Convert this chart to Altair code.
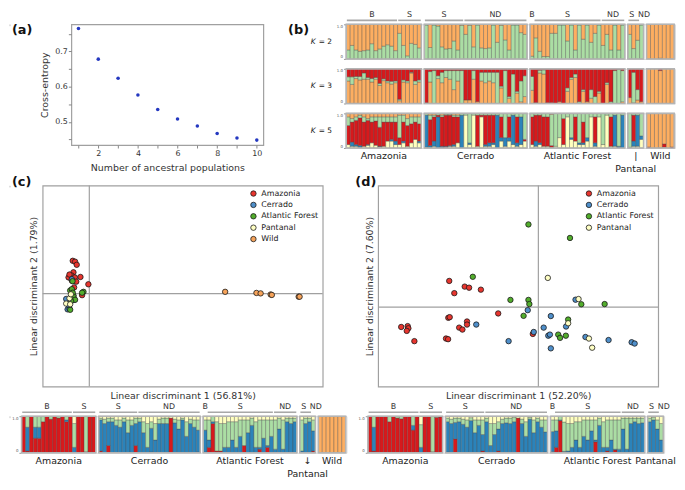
import altair as alt
import pandas as pd

FONT = "DejaVu Sans"
GAP = 0.75
TXT = "#333333"

# ---------------- (a) cross-entropy ----------------
n_pops = [1, 2, 3, 4, 5, 6, 7, 8, 9, 10]
cross_entropy = [0.765, 0.678, 0.624, 0.576, 0.535, 0.508, 0.488, 0.467, 0.454, 0.448]

# ---------------- groups ----------------
groups_all = ["Amazonia", "Cerrado", "Atlantic Forest", "Pantanal", "Wild"]
groups_d = ["Amazonia", "Cerrado", "Atlantic Forest", "Pantanal"]
# (group, label, first bar, last bar, label nudge in bars)
subgroups = [("Amazonia", "B", 1, 13, 0), ("Amazonia", "S", 14, 19, 0),
             ("Cerrado", "S", 1, 10, 0), ("Cerrado", "ND", 11, 26, 0),
             ("Atlantic Forest", "B", 1, 1, 0), ("Atlantic Forest", "S", 2, 18, 0),
             ("Atlantic Forest", "ND", 19, 24, 0),
             ("Pantanal", "S", 1, 3, -0.5), ("Pantanal", "ND", 4, 4, 0.6)]

# Spectral palette used by the ancestry bars
RED, ORANGE, YELLOW, GREEN, BLUE = "#d7191c", "#fdae61", "#ffffbf", "#abdda4", "#2b83ba"

# K = 2 : green share (rest orange)
k2 = {
    "Amazonia": [0.26, 0.39, 0.26, 0.22, 0.24, 0.26, 0.44, 0.24, 0.29, 0.37, 0.41, 0.37, 0.24,
                 0.74, 0.39, 0.09, 0.45, 0.42, 0.32],
    "Cerrado": [0.98, 0.33, 0.98, 0.95, 0.35, 0.29, 0.30, 0.52, 0.26, 0.97,
                0.71, 0.97, 0.35, 0.98, 0.32, 0.30, 0.32, 0.98, 0.48, 0.97, 0.55, 0.26, 0.98, 0.98, 0.76, 0.71],
    "Atlantic Forest": [0.08, 0.61, 0.22, 0.07, 0.07, 0.74, 0.74, 0.98, 0.98, 0.52, 0.98, 0.26, 0.98,
                        0.57, 0.98, 0.48, 0.74, 0.98, 0.39, 0.71, 0.26, 0.98, 0.26, 0.98],
    "Pantanal": [0.71, 0.30, 0.54, 0.98],
    "Wild": [0.0, 0.0, 0.0, 0.02, 0.0, 0.0, 0.0],
}
# K = 3 : (orange, green), rest red
k3 = {
    "Amazonia": [(0.65, 0.12), (0.55, 0.22), (0.72, 0.06), (0.68, 0.10), (0.70, 0.18), (0.70, 0.05),
                 (0.62, 0.10), (0.70, 0.05), (0.52, 0.06), (0.66, 0.05), (0.60, 0.05), (0.56, 0.08),
                 (0.60, 0.05), (0.08, 0.04), (0.62, 0.06), (0.60, 0.05), (0.88, 0.02), (0.55, 0.10),
                 (0.62, 0.06)],
    "Cerrado": [(0.02, 0.00), (0.62, 0.30), (0.00, 0.95), (0.72, 0.08), (0.60, 0.30), (0.75, 0.20),
                (0.70, 0.25), (0.40, 0.55), (0.65, 0.30), (0.00, 0.95), (0.10, 0.00), (0.10, 0.00),
                (0.70, 0.25), (0.05, 0.00), (0.65, 0.25), (0.60, 0.30), (0.65, 0.25), (0.60, 0.30),
                (0.00, 0.90), (0.45, 0.05), (0.00, 0.95), (0.15, 0.05), (0.00, 0.85), (0.30, 0.05),
                (0.05, 0.60), (0.20, 0.60)],
    "Atlantic Forest": [(0.38, 0.40), (0.00, 0.02), (0.88, 0.08), (0.85, 0.12), (0.02, 0.00), (0.00, 0.02),
                        (0.00, 0.00), (0.05, 0.00), (0.00, 0.00), (0.35, 0.10), (0.70, 0.05), (0.75, 0.10),
                        (0.00, 0.05), (0.35, 0.05), (0.05, 0.00), (0.15, 0.25), (0.00, 0.20), (0.30, 0.05),
                        (0.00, 0.00), (0.55, 0.05), (0.00, 0.05), (0.00, 0.95), (0.00, 0.98), (0.05, 0.90)],
    "Pantanal": [(0.17, 0.00), (0.02, 0.88), (0.10, 0.30), (0.05, 0.00)],
    "Wild": [(1.0, 0.0), (1.0, 0.0), (1.0, 0.0), (0.95, 0.0), (1.0, 0.0), (1.0, 0.0), (1.0, 0.0)],
}
# K = 5 : (yellow, blue, red, green), rest orange
k5 = {
    "Amazonia": [(0.10, 0.00, 0.55, 0.25), (0.05, 0.12, 0.58, 0.10), (0.05, 0.05, 0.70, 0.10),
                 (0.02, 0.05, 0.80, 0.08), (0.05, 0.00, 0.70, 0.15), (0.08, 0.02, 0.70, 0.05),
                 (0.15, 0.00, 0.60, 0.15), (0.08, 0.00, 0.70, 0.12), (0.03, 0.02, 0.55, 0.30),
                 (0.05, 0.00, 0.70, 0.15), (0.20, 0.00, 0.55, 0.15), (0.20, 0.05, 0.50, 0.15),
                 (0.10, 0.10, 0.55, 0.15), (0.10, 0.00, 0.20, 0.65), (0.15, 0.05, 0.55, 0.20),
                 (0.05, 0.00, 0.60, 0.20), (0.15, 0.00, 0.55, 0.20), (0.25, 0.00, 0.50, 0.15),
                 (0.15, 0.05, 0.50, 0.20)],
    "Cerrado": [(0.02, 0.93, 0.00, 0.05), (0.02, 0.05, 0.75, 0.13), (0.05, 0.15, 0.70, 0.05),
                (0.00, 0.90, 0.05, 0.05), (0.00, 0.05, 0.85, 0.05), (0.02, 0.03, 0.90, 0.03),
                (0.05, 0.02, 0.88, 0.03), (0.05, 0.05, 0.80, 0.05), (0.15, 0.00, 0.75, 0.05),
                (0.00, 0.95, 0.00, 0.05), (0.95, 0.00, 0.00, 0.05), (0.10, 0.05, 0.00, 0.85),
                (0.95, 0.00, 0.00, 0.05), (0.05, 0.00, 0.90, 0.05), (0.90, 0.00, 0.05, 0.05),
                (0.05, 0.05, 0.85, 0.05), (0.05, 0.10, 0.80, 0.05), (0.10, 0.05, 0.80, 0.05),
                (0.00, 0.95, 0.00, 0.05), (0.20, 0.10, 0.60, 0.10), (0.05, 0.25, 0.00, 0.70),
                (0.20, 0.10, 0.60, 0.10), (0.10, 0.85, 0.00, 0.05), (0.05, 0.10, 0.75, 0.10),
                (0.10, 0.80, 0.00, 0.10), (0.20, 0.00, 0.05, 0.75)],
    "Atlantic Forest": [(0.10, 0.00, 0.80, 0.10), (0.05, 0.15, 0.75, 0.05), (0.10, 0.05, 0.80, 0.05),
                        (0.05, 0.00, 0.85, 0.10), (0.05, 0.00, 0.85, 0.10), (0.02, 0.00, 0.05, 0.90),
                        (0.05, 0.00, 0.00, 0.95), (0.30, 0.00, 0.00, 0.70), (0.10, 0.00, 0.75, 0.15),
                        (0.90, 0.00, 0.00, 0.10), (0.25, 0.05, 0.00, 0.70), (0.20, 0.00, 0.70, 0.10),
                        (0.10, 0.05, 0.00, 0.85), (0.10, 0.05, 0.60, 0.25), (0.20, 0.10, 0.00, 0.70),
                        (0.90, 0.00, 0.00, 0.10), (0.05, 0.10, 0.75, 0.10), (0.90, 0.00, 0.00, 0.10),
                        (0.10, 0.00, 0.00, 0.90), (0.95, 0.00, 0.00, 0.05), (0.05, 0.00, 0.85, 0.10),
                        (0.05, 0.90, 0.00, 0.05), (0.00, 0.05, 0.00, 0.95), (0.00, 0.95, 0.00, 0.05)],
    "Pantanal": [(0.02, 0.00, 0.00, 0.98), (0.05, 0.15, 0.75, 0.05), (0.05, 0.90, 0.00, 0.05),
                 (0.25, 0.10, 0.00, 0.65)],
    "Wild": [(0.0, 0.0, 0.03, 0.0), (0.0, 0.0, 0.0, 0.0), (0.0, 0.0, 0.0, 0.0), (0.0, 0.0, 0.0, 0.01),
             (0.02, 0.0, 0.10, 0.0), (0.0, 0.0, 0.0, 0.0), (0.0, 0.0, 0.03, 0.0)],
}
# bottom-left bars : (red, blue, green, yellow), rest orange
cbars = {
    "Amazonia": [(1, 0, 0, 0), (0.05, 0.65, 0.30, 0), (1, 0, 0, 0), (0.40, 0.30, 0.30, 0), (0.40, 0.30, 0.30, 0),
                 (0.85, 0, 0.15, 0), (1, 0, 0, 0), (0.92, 0, 0.08, 0), (1, 0, 0, 0), (0.95, 0, 0.05, 0),
                 (1, 0, 0, 0), (0.85, 0.05, 0.10, 0), (1, 0, 0, 0),
                 (0, 0.15, 0.65, 0.20), (1, 0, 0, 0), (1, 0, 0, 0), (0.03, 0, 0.97, 0), (1, 0, 0, 0), (1, 0, 0, 0)],
    "Cerrado": [(0.05, 0.85, 0.05, 0.05), (0.00, 0.80, 0.12, 0.08), (0.20, 0.65, 0.10, 0.05),
                (0.00, 0.85, 0.10, 0.05), (0.00, 0.75, 0.15, 0.10), (0.00, 0.70, 0.20, 0.10),
                (0.00, 0.85, 0.10, 0.05), (0.00, 0.55, 0.35, 0.10), (0.00, 0.75, 0.15, 0.10),
                (0.20, 0.60, 0.15, 0.05), (0.00, 0.85, 0.10, 0.05), (0.00, 0.55, 0.30, 0.15),
                (0.00, 0.15, 0.65, 0.20), (0.02, 0.65, 0.18, 0.15), (0.00, 0.35, 0.45, 0.20),
                (0.00, 0.80, 0.12, 0.08), (0.00, 0.80, 0.15, 0.05), (0.00, 0.80, 0.15, 0.05),
                (0.95, 0.00, 0.00, 0.05), (0.00, 0.82, 0.10, 0.08), (0.00, 0.65, 0.25, 0.10),
                (0.00, 0.90, 0.05, 0.05), (0.00, 0.45, 0.40, 0.15), (0.00, 0.80, 0.12, 0.08),
                (0.00, 0.70, 0.20, 0.10), (0.02, 0.60, 0.28, 0.10)],
    "Atlantic Forest": [(0.02, 0.60, 0.28, 0.10), (0.15, 0.20, 0.55, 0.10), (0.80, 0.05, 0.15, 0.00),
                        (0.05, 0.00, 0.80, 0.15), (0.05, 0.00, 0.75, 0.20), (0.00, 0.15, 0.65, 0.20),
                        (0.00, 0.15, 0.70, 0.15), (0.00, 0.35, 0.50, 0.15), (0.00, 0.15, 0.70, 0.15),
                        (0.00, 0.45, 0.45, 0.10), (0.20, 0.00, 0.70, 0.10), (0.00, 0.55, 0.35, 0.10),
                        (0.00, 0.75, 0.20, 0.05), (0.00, 0.15, 0.70, 0.15), (0.10, 0.05, 0.75, 0.10),
                        (0.00, 0.40, 0.50, 0.10), (0.15, 0.05, 0.70, 0.10), (0.00, 0.45, 0.45, 0.10),
                        (0.00, 0.10, 0.80, 0.10), (0.00, 0.65, 0.30, 0.05), (0.00, 0.10, 0.80, 0.10),
                        (0.00, 0.85, 0.10, 0.05), (0.00, 0.80, 0.15, 0.05), (0.00, 0.85, 0.10, 0.05)],
    "Pantanal": [(0, 0.05, 0.85, 0.10), (0, 0.80, 0.15, 0.05), (0, 0.85, 0.10, 0.05), (0.05, 0.55, 0.30, 0.10)],
    "Wild": [(0, 0, 0, 0)] * 7,
}
# bottom-right bars : (red, blue, green, yellow)
dbars = {
    "Amazonia": [(1, 0, 0, 0), (0.05, 0.65, 0.30, 0), (1, 0, 0, 0), (1, 0, 0, 0), (1, 0, 0, 0),
                 (0.85, 0, 0.15, 0), (1, 0, 0, 0), (0.95, 0, 0.05, 0), (0.93, 0, 0.07, 0), (1, 0, 0, 0),
                 (1, 0, 0, 0), (0.62, 0.13, 0.25, 0), (1, 0, 0, 0),
                 (0, 0.15, 0.62, 0.23), (1, 0, 0, 0), (1, 0, 0, 0), (0.03, 0, 0.97, 0), (0.97, 0, 0.03, 0),
                 (0.98, 0, 0.02, 0)],
    "Cerrado": [(0.02, 0.83, 0.10, 0.05), (0.00, 0.80, 0.12, 0.08), (0.38, 0.45, 0.12, 0.05),
                (0.00, 0.85, 0.10, 0.05), (0.00, 0.78, 0.14, 0.08), (0.00, 0.70, 0.20, 0.10),
                (0.00, 0.88, 0.08, 0.04), (0.00, 0.55, 0.35, 0.10), (0.00, 0.75, 0.15, 0.10),
                (0.05, 0.45, 0.40, 0.10), (0.00, 0.85, 0.10, 0.05), (0.00, 0.20, 0.60, 0.20),
                (0.00, 0.50, 0.30, 0.20), (0.05, 0.60, 0.20, 0.15), (0.00, 0.80, 0.12, 0.08),
                (0.00, 0.82, 0.13, 0.05), (0.00, 0.80, 0.15, 0.05), (0.00, 0.85, 0.12, 0.03),
                (0.95, 0.00, 0.00, 0.05), (0.00, 0.80, 0.12, 0.08), (0.00, 0.45, 0.40, 0.15),
                (0.00, 0.92, 0.05, 0.03), (0.00, 0.55, 0.35, 0.10), (0.00, 0.85, 0.10, 0.05),
                (0.00, 0.70, 0.20, 0.10), (0.02, 0.55, 0.33, 0.10)],
    "Atlantic Forest": [(0.03, 0.55, 0.32, 0.10), (0.15, 0.45, 0.30, 0.10), (0.88, 0.02, 0.10, 0.00),
                        (0.02, 0.02, 0.80, 0.16), (0.00, 0.05, 0.75, 0.20), (0.00, 0.15, 0.65, 0.20),
                        (0.00, 0.35, 0.50, 0.15), (0.00, 0.15, 0.70, 0.15), (0.00, 0.45, 0.45, 0.10),
                        (0.00, 0.35, 0.55, 0.10), (0.00, 0.60, 0.30, 0.10), (0.30, 0.05, 0.55, 0.10),
                        (0.00, 0.75, 0.20, 0.05), (0.00, 0.15, 0.70, 0.15), (0.05, 0.10, 0.75, 0.10),
                        (0.00, 0.35, 0.55, 0.10), (0.08, 0.02, 0.80, 0.10), (0.00, 0.10, 0.80, 0.10),
                        (0.00, 0.65, 0.30, 0.05), (0.00, 0.10, 0.85, 0.05), (0.00, 0.80, 0.15, 0.05),
                        (0.00, 0.85, 0.10, 0.05), (0.00, 0.80, 0.15, 0.05), (0.00, 0.82, 0.13, 0.05)],
    "Pantanal": [(0, 0.85, 0.10, 0.05), (0, 0.90, 0.07, 0.03), (0, 0.65, 0.25, 0.10), (0, 0.35, 0.45, 0.20)],
}

# ---------------- (c) LDA scatter ----------------
c_points = {
    "Amazonia": [(-0.71, 1.48), (-0.61, 1.44), (-0.54, 1.30), (-0.68, 0.96), (-0.89, 0.73), (-0.76, 0.82),
                 (-0.62, 0.73), (-0.38, 0.75), (-0.56, 0.54), (-0.75, 0.59), (-0.04, 0.42), (-0.65, 0.28),
                 (-0.31, -0.07), (-0.85, 0.86)],
    "Cerrado": [(-0.75, 0.65), (-0.99, -0.24), (-0.93, -0.71), (-0.85, -0.69), (-0.68, -0.11),
                (-0.88, -0.52), (-0.65, -0.28)],
    "Atlantic Forest": [(-0.72, 0.56), (-0.82, 0.14), (-0.75, 0.20), (-0.25, 0.08), (-0.31, 0.04),
                        (-0.68, -0.10), (-0.61, -0.28), (-0.78, -0.34), (-0.82, -0.73), (-0.71, 0.04)],
    "Pantanal": [(-0.85, -0.21), (-0.99, -0.45), (-0.82, -0.48), (-0.79, -0.03)],
    "Wild": [(5.82, 0.08), (7.16, 0.03), (7.34, 0.01), (7.77, -0.04), (7.82, -0.06), (8.97, -0.14), (9.01, -0.14)],
}
# ---------------- (d) LDA scatter ----------------
d_points = {
    "Amazonia": [(-5.94, -0.91), (-5.66, -0.87), (-5.63, -0.97), (-5.70, -1.09), (-5.37, -1.56), (-4.00, -1.44),
                 (-3.91, -1.47), (-3.90, -0.49), (-3.84, -0.46), (-3.64, 0.64), (-3.86, 1.20), (-3.19, 0.94),
                 (-3.00, 0.89), (-2.49, 0.80), (-3.43, -0.94), (-3.29, -1.03), (-3.09, -0.66), (-3.09, -0.80),
                 (-1.74, -0.29), (-0.24, -1.23)],
    "Cerrado": [(-2.69, -0.80), (-1.29, -1.56), (-0.46, -0.14), (-0.20, -1.14), (0.23, -0.94), (0.43, -1.31),
                (0.50, -1.26), (0.54, -0.41), (0.54, -1.89), (1.20, -0.89), (1.61, 0.34), (2.04, -1.37),
                (3.04, -1.51), (4.04, -1.61), (4.17, -1.67)],
    "Atlantic Forest": [(-2.84, 1.39), (-1.21, 0.33), (-0.43, 0.33), (-0.39, 0.14), (-0.64, -0.40), (-0.43, 3.79),
                        (1.37, 3.17), (1.29, -0.57), (0.86, -1.26), (0.94, -1.41), (1.19, -1.31), (1.86, 0.13),
                        (2.87, 0.14)],
    "Pantanal": [(0.41, 1.34), (1.74, 0.37), (1.29, -0.74), (2.19, -1.44), (2.33, -1.86)],
}
scatter_colors = {"Amazonia": "#e8352e", "Cerrado": "#4f8fca", "Atlantic Forest": "#52ad2c",
                  "Pantanal": "#ffffc4", "Wild": "#f6a35a"}


# ================= helpers =================
def group_starts(values, groups):
    starts, pos = {}, 0.0
    for gi, g in enumerate(groups):
        starts[g] = pos + gi * GAP
        pos += len(values[g])
    return starts, pos + (len(groups) - 1) * GAP


def bar_table(values, groups, comps):
    recs = []
    starts, _ = group_starts(values, groups)
    for g in groups:
        for j, v in enumerate(values[g]):
            vals = list(v) if isinstance(v, (list, tuple)) else [v]
            vals.append(max(0.0, 1.0 - sum(vals)))
            x0 = starts[g] + j
            for ci, (c, val) in enumerate(zip(comps, vals)):
                recs.append({"group": g, "bar": f"{g}-{j}", "x0": x0, "x1": x0 + 1,
                             "comp": c, "order": ci, "value": float(val)})
    return pd.DataFrame(recs)


def admix_row(values, groups, comps, colors, width, height, k_label=None, top=False, bottom=None):
    df = bar_table(values, groups, comps)
    starts, total = group_starts(values, groups)
    xs = alt.Scale(domain=[-0.2, total + 0.2], nice=False, zero=False)
    ys = alt.Scale(domain=[0, 1], nice=False, zero=False, clamp=True)
    layers = []
    bars = alt.Chart(df).transform_filter("datum.value > 0.004").transform_stack(
        stack="value", groupby=["bar"], as_=["y0", "y1"], sort=[alt.SortField("order", order="ascending")]
    ).mark_rect(stroke="#4a4a4a", strokeWidth=0.35).encode(
        x=alt.X("x0:Q", scale=xs, axis=None),
        x2="x1:Q",
        y=alt.Y("y0:Q", scale=ys, axis=alt.Axis(
            values=[0, 0.25, 0.5, 0.75, 1],
            labelExpr="datum.value == 1 ? '1.0' : (datum.value == 0 ? '0' : '')",
            labelFontSize=4, labelFlush=True, tickSize=2, labelPadding=1, domain=False, grid=False,
            title=None, tickColor="#999999", labelColor="#555555")),
        y2="y1:Q",
        color=alt.Color("comp:N", scale=alt.Scale(domain=comps, range=colors), legend=None),
    )
    layers.append(bars)
    frames = alt.Chart(df).transform_aggregate(
        gx0="min(x0)", gx1="max(x1)", groupby=["group"]
    ).mark_rect(fillOpacity=0, stroke="#b4b4b4", strokeWidth=1.6).encode(
        x=alt.X("gx0:Q", scale=xs), x2="gx1:Q", y=alt.datum(0), y2=alt.datum(1))
    layers.append(frames)
    if top:
        recs = []
        for g, lab, s, e, nudge in subgroups:
            if g not in starts:
                continue
            a, b = starts[g] + s - 1, starts[g] + e
            recs.append({"label": lab, "xs": a + 0.15, "xe": b - 0.15, "xm": (a + b) / 2 + nudge,
                         "span": e - s})
        sdf = pd.DataFrame(recs)
        layers.append(alt.Chart(sdf).transform_filter("datum.span > 0").mark_rule(
            color="#a8a8a8", strokeWidth=1.6).encode(x=alt.X("xs:Q", scale=xs), x2="xe:Q", y=alt.value(-4)))
        layers.append(alt.Chart(sdf).mark_text(fontSize=8, font=FONT, color=TXT).encode(
            x=alt.X("xm:Q", scale=xs), y=alt.value(-9.5), text="label:N"))
    if bottom is not None:
        recs = []
        for g in groups:
            mid = starts[g] + len(values[g]) / 2
            if g == "Pantanal" and bottom in ("bar", "arrow"):
                recs.append({"label": "|" if bottom == "bar" else "↓", "xm": mid, "line": 1})
                recs.append({"label": "Pantanal", "xm": mid, "line": 2})
            else:
                recs.append({"label": g, "xm": mid, "line": 1})
        gdf = pd.DataFrame(recs)
        layers.append(alt.Chart(gdf).transform_filter("datum.line == 1").mark_text(
            fontSize=9.5, font=FONT, color="#222222").encode(
            x=alt.X("xm:Q", scale=xs), y=alt.value(height + 8.5), text="label:N"))
        layers.append(alt.Chart(gdf).transform_filter("datum.line == 2").mark_text(
            fontSize=9.5, font=FONT, color="#222222").encode(
            x=alt.X("xm:Q", scale=xs), y=alt.value(height + 21), text="label:N"))
    if k_label is not None:
        kdf = pd.DataFrame({"k": ["K"], "rest": [f"= {k_label}"]})
        layers.append(alt.Chart(kdf).mark_text(fontSize=7.5, font=FONT, fontStyle="italic", align="left",
                                               color="#222222").encode(
            x=alt.value(-35), y=alt.value(height / 2), text="k:N"))
        layers.append(alt.Chart(kdf).mark_text(fontSize=7.5, font=FONT, align="left", color="#222222").encode(
            x=alt.value(-27), y=alt.value(height / 2), text="rest:N"))
    return alt.layer(*layers).properties(width=width, height=height)


def letter(text, x, y):
    return alt.Chart(pd.DataFrame({"t": [text]})).mark_text(
        fontSize=13, fontWeight="bold", font=FONT, align="left", color="#111111").encode(
        x=alt.value(x), y=alt.value(y), text="t:N")


def scatter(points, groups, xdom, ydom, width, height, xtitle, ytitle, lab):
    recs = []
    for g in groups:
        for (x, y) in points[g]:
            recs.append({"group": g, "x": x, "y": y})
    df = pd.DataFrame(recs)
    ax = dict(labels=False, ticks=False, domain=False, grid=False, titleFontSize=9.5, titleFont=FONT,
              titleFontWeight="normal", titleColor=TXT, titlePadding=4)
    xs = alt.Scale(domain=xdom, nice=False, zero=False)
    ys = alt.Scale(domain=ydom, nice=False, zero=False)
    zero = pd.DataFrame({"v": [0.0]})
    vline = alt.Chart(zero).mark_rule(color="#a0a0a0", strokeWidth=1.2).encode(x=alt.X("v:Q", scale=xs))
    hline = alt.Chart(zero).mark_rule(color="#a0a0a0", strokeWidth=1.2).encode(y=alt.Y("v:Q", scale=ys))
    pts = alt.Chart(df).mark_point(filled=True, size=30, stroke="#1a1a1a", strokeWidth=0.8, opacity=1).encode(
        x=alt.X("x:Q", scale=xs, axis=alt.Axis(title=xtitle, **ax)),
        y=alt.Y("y:Q", scale=ys, axis=alt.Axis(title=ytitle, **ax)),
        fill=alt.Fill("group:N", scale=alt.Scale(domain=groups, range=[scatter_colors[g] for g in groups]),
                      legend=alt.Legend(title=None, orient="top-right", offset=4, labelFontSize=8,
                                        labelFont=FONT, labelColor="#222222", symbolType="circle",
                                        symbolSize=30, symbolStrokeColor="#1a1a1a", symbolStrokeWidth=0.8,
                                        rowPadding=1.5, padding=0, symbolOpacity=1)),
    )
    return alt.layer(hline, vline, pts, lab).properties(
        width=width, height=height, view=alt.ViewBackground(stroke="#a0a0a0", strokeWidth=1.2))


def indep(c):
    return c.resolve_scale(color="independent", fill="independent").resolve_legend(
        color="independent", fill="independent")


def spacer():
    return alt.Chart(pd.DataFrame({"t": [0]})).mark_point(opacity=0, size=1).encode(
        x=alt.value(0.5), y=alt.value(0.5)).properties(width=1, height=1)


# ================= (a) =================
a_df = pd.DataFrame({"k": n_pops, "ce": cross_entropy})
a_axis = dict(tickColor="#888888", tickSize=3, labelColor=TXT, labelFontSize=8, labelFont=FONT,
              titleFontSize=9.5, titleFont=FONT, titleFontWeight="normal", titleColor=TXT,
              domain=False, grid=False)
a_pts = alt.Chart(a_df).mark_circle(size=13, color="#2438c0", opacity=1).encode(
    x=alt.X("k:Q", scale=alt.Scale(domain=[0.64, 10.33], nice=False, zero=False),
            axis=alt.Axis(values=n_pops, labelExpr="datum.value % 2 == 0 ? datum.label : ''",
                          title="Number of ancestral populations", labelPadding=2, titlePadding=5, **a_axis)),
    y=alt.Y("ce:Q", scale=alt.Scale(domain=[0.434, 0.777], nice=False, zero=False),
            axis=alt.Axis(values=[0.45, 0.5, 0.55, 0.6, 0.65, 0.7, 0.75],
                          labelExpr="abs(datum.value * 10 - round(datum.value * 10)) < 0.01 ? format(datum.value, '.1f') : ''",
                          title="Cross-entropy", labelPadding=1, titlePadding=5, **a_axis)),
)
panel_a = alt.layer(a_pts, letter("(a)", -60, 6), letter("(b)", 219, 6)).properties(
    width=194, height=122, view=alt.ViewBackground(stroke="#a0a0a0", strokeWidth=1.2))

# ================= (b) =================
BW, BH = 333, 35
row_k2 = admix_row(k2, groups_all, ["g", "o"], [GREEN, ORANGE], BW, BH, k_label="2", top=True)
row_k3 = admix_row(k3, groups_all, ["o", "g", "r"], [ORANGE, GREEN, RED], BW, BH, k_label="3")
row_k5 = admix_row(k5, groups_all, ["y", "b", "r", "g", "o"], [YELLOW, BLUE, RED, GREEN, ORANGE], BW, BH,
                   k_label="5", bottom="bar")
panel_b = indep(alt.vconcat(row_k2, row_k3, row_k5, spacing=6))

# ================= (c), (d) =================
SW, SH = 283, 203
panel_c = scatter(c_points, groups_all, [-2.0, 10.0], [-4.19, 4.87], SW, SH,
                  "Linear discriminant 1 (56.81%)", "Linear discriminant 2 (1.79%)", letter("(c)", -31, -4))
panel_d = scatter(d_points, groups_d, [-6.94, 5.19], [-3.64, 5.57], SW, SH,
                  "Linear discriminant 1 (52.20%)", "Linear discriminant 2 (7.60%)", letter("(d)", -23, -4))

bar_comps = ["r", "b", "g", "y", "o"]
bar_cols = [RED, BLUE, GREEN, YELLOW, ORANGE]
panel_cb = admix_row(cbars, groups_all, bar_comps, bar_cols, 329, 37, top=True, bottom="arrow")
panel_db = admix_row(dbars, groups_d, bar_comps, bar_cols, 300, 37, top=True, bottom="inline")

row1 = indep(alt.hconcat(spacer(), panel_a, panel_b, spacing=0))
row2 = indep(alt.hconcat(spacer(), indep(alt.hconcat(panel_c, panel_d, spacing=30)), spacing=0))
row3 = indep(alt.hconcat(spacer(), indep(alt.hconcat(panel_cb, panel_db, spacing=10)), spacing=0))

chart = indep(alt.vconcat(row1, row2, row3, spacing=1)).properties(padding=0).configure_view(
    strokeWidth=0).configure(font=FONT)

chart.save("out.html", embed_options={"renderer": "svg", "actions": False})
